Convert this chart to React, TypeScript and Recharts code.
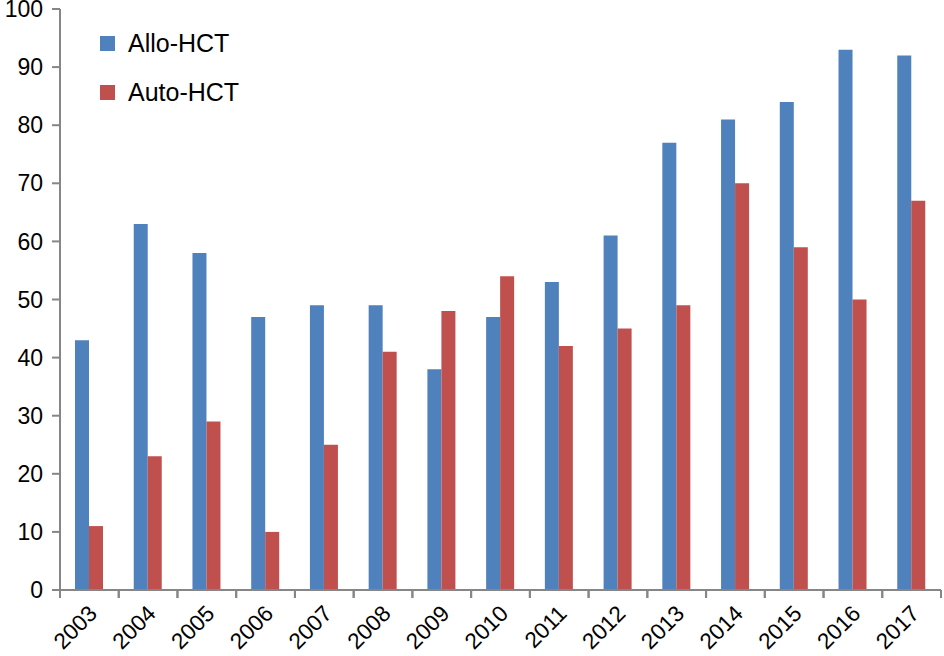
import { BarChart, Bar, XAxis, YAxis } from 'recharts';

const years = ['2003', '2004', '2005', '2006', '2007', '2008', '2009', '2010', '2011', '2012', '2013', '2014', '2015', '2016', '2017'];
const allo = [43, 63, 58, 47, 49, 49, 38, 47, 53, 61, 77, 81, 84, 93, 92];
const auto = [11, 23, 29, 10, 25, 41, 48, 54, 42, 45, 49, 70, 59, 50, 67];
const yTicks = [0, 10, 20, 30, 40, 50, 60, 70, 80, 90, 100];
const series = [
  { key: 'allo', name: 'Allo-HCT', color: '#4F81BD' },
  { key: 'auto', name: 'Auto-HCT', color: '#C0504D' },
];

const data = years.map((year, i) => ({ year, allo: allo[i], auto: auto[i] }));

const FONT = '"Liberation Sans", Arial, sans-serif';
const AXIS = '#868686';

function YearTick(props: any) {
  const { x, y, payload, width } = props;
  const band = (width || 881) / years.length;
  const tx = x + 9;
  const ty = y + 17;
  return (
    <g>
      <line x1={x - band / 2} x2={x - band / 2} y1={y - 8} y2={y} stroke={AXIS} strokeWidth={2} />
      <line x1={x + band / 2} x2={x + band / 2} y1={y - 8} y2={y} stroke={AXIS} strokeWidth={2} />
      <text
        x={tx}
        y={ty}
        textAnchor="end"
        fontSize={22.5}
        fontFamily={FONT}
        fill="#000"
        transform={`rotate(-45 ${tx} ${ty})`}
      >
        {payload.value}
      </text>
    </g>
  );
}

export default function App() {
  return (
    <div style={{ position: 'absolute', left: 0, top: 0, width: 944, height: 656, background: '#fff' }}>
      <BarChart
        width={944}
        height={656}
        data={data}
        margin={{ top: 9, right: 3, left: 0, bottom: 0 }}
        barGap={0}
      >
        <XAxis
          dataKey="year"
          height={66}
          stroke={AXIS}
          strokeWidth={2}
          tickLine={false}
          tick={<YearTick />}
          interval={0}
        />
        <YAxis
          width={60}
          domain={[0, 100]}
          ticks={yTicks}
          interval={0}
          stroke={AXIS}
          strokeWidth={2}
          tickSize={8}
          tickMargin={9}
          tick={{ fill: '#000', fontSize: 23, fontFamily: FONT }}
        />
        {series.map((s) => (
          <Bar key={s.key} dataKey={s.key} name={s.name} fill={s.color} barSize={14} isAnimationActive={false} />
        ))}
      </BarChart>
      <div style={{ position: 'absolute', left: 100, top: 28, fontFamily: FONT, fontSize: 25, lineHeight: '30px' }}>
        {series.map((s) => (
          <div key={s.key} style={{ display: 'flex', alignItems: 'center', height: 30, marginBottom: 19 }}>
            <span style={{ display: 'inline-block', width: 15, height: 15, background: s.color, marginRight: 13 }} />
            <span>{s.name}</span>
          </div>
        ))}
      </div>
    </div>
  );
}
